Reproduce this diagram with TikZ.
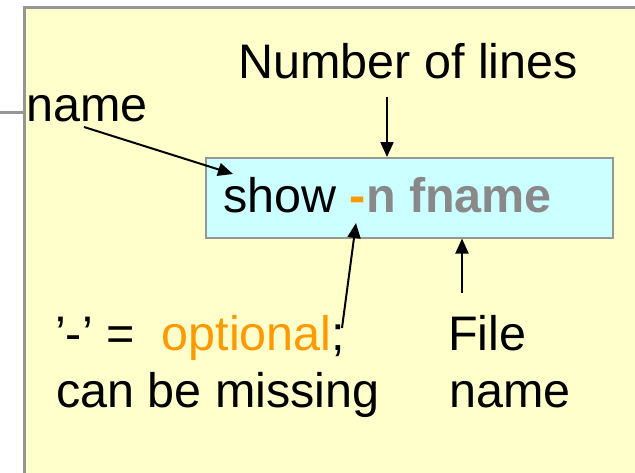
\documentclass[tikz,border=0pt]{standalone}
\usepackage{fontspec}
\setmainfont{Liberation Sans}
\usetikzlibrary{arrows.meta}
\definecolor{panel}{RGB}{255,255,204}
\definecolor{boxfill}{RGB}{204,255,255}
\definecolor{bordergray}{RGB}{150,150,150}
\definecolor{orng}{RGB}{255,153,0}
\definecolor{txtgray}{RGB}{137,137,137}
\begin{document}
\begin{tikzpicture}[x=1pt,y=-1pt,
  lbl/.style={inner sep=0pt, anchor=base west, font=\fontsize{48.5}{58}\selectfont},
  arr/.style={line width=2pt, -{Triangle[length=15pt,width=13pt]}}]
\useasboundingbox (0,0) rectangle (635,472);
\clip (0,0) rectangle (635,472);
\fill[white] (0,0) rectangle (635,472);
\draw[bordergray, line width=3pt, fill=panel] (24.5,7.5) rectangle (660,500);
\coordinate (leftEnd) at (0,112.5);
\coordinate (panelEdge) at (23,112.5);
\draw[bordergray, line width=3pt] (leftEnd) -- (panelEdge);
\node[draw=bordergray, line width=1.5pt, fill=boxfill, minimum width=407pt, minimum height=80pt, anchor=north west, inner sep=0pt] (box) at (205,157) {};
\node[lbl] (cmd) at (223,212) {show {\bfseries\color{orng}-}{\bfseries\color{txtgray}n fname}};
\node[lbl] (name) at (26,121) {name};
\node[lbl] (nol) at (238,78) {Number of lines};
\node[lbl] (opt) at (55,350) {’-’ =\ \ {\color{orng}optional};};
\node[lbl] (miss) at (56,407) {can be missing};
\node[lbl] (file) at (448,350) {File};
\node[lbl] (fname) at (449,407) {name};
\coordinate (nameTail) at (84,127);
\coordinate (nameTip) at (233,174);
\coordinate (nolTail) at (387,97);
\coordinate (fileTail) at (462,293);
\coordinate (optTail) at (342,328);
\coordinate (optTip) at (356,223);
\draw[arr] (nameTail) -- (nameTip);
\draw[arr] (nolTail) -- (box.north -| nolTail);
\draw[arr] (fileTail) -- (box.south -| fileTail);
\draw[arr] (optTail) -- (optTip);
\end{tikzpicture}
\end{document}
